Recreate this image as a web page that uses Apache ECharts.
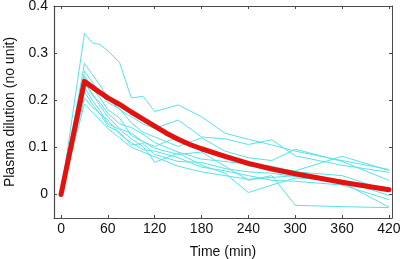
<!DOCTYPE html>
<html>
<head>
<meta charset="utf-8">
<script src="https://cdn.jsdelivr.net/npm/echarts@6/dist/echarts.min.js"></script>
<style>
html, body { margin: 0; padding: 0; background: #fff; }
#chart { width: 400px; height: 259px; }
</style>
</head>
<body>
<div id="chart"></div>
<script>
// sample times (min) for subjects
var times = [0, 30, 40, 50, 60, 75, 90, 105, 120, 150, 180, 210, 240, 270, 300, 360, 420];
var subjects = [
    [0, 0.342, 0.322, 0.318, 0.305, 0.280, 0.205, 0.208, 0.176, 0.190, 0.165, 0.130, 0.117, 0.105, 0.092, 0.072, 0.053],
    [0, 0.278, 0.255, 0.232, 0.205, 0.180, 0.165, 0.150, 0.140, 0.158, 0.122, 0.118, 0.106, 0.116, 0.082, 0.062, 0.047],
    [0, 0.262, 0.238, 0.215, 0.195, 0.182, 0.152, 0.132, 0.122, 0.102, 0.120, 0.092, 0.078, 0.072, 0.096, 0.070, 0.030],
    [0, 0.252, 0.225, 0.205, 0.180, 0.162, 0.125, 0.112, 0.102, 0.122, 0.092, 0.086, 0.060, 0.056, 0.050, 0.081, 0.051],
    [0, 0.245, 0.210, 0.195, 0.172, 0.150, 0.142, 0.128, 0.110, 0.090, 0.075, 0.070, 0.064, 0.060, 0.048, 0.040, 0.007],
    [0, 0.235, 0.215, 0.188, 0.165, 0.140, 0.130, 0.112, 0.098, 0.085, 0.090, 0.060, 0.030, 0.040, -0.023, -0.026, -0.028],
    [0, 0.228, 0.200, 0.178, 0.150, 0.138, 0.118, 0.102, 0.068, 0.088, 0.062, 0.045, 0.004, 0.020, 0.035, 0.030, -0.002],
    [0, 0.218, 0.192, 0.170, 0.158, 0.128, 0.110, 0.095, 0.092, 0.078, 0.058, 0.050, 0.040, 0.030, 0.028, 0.020, -0.011],
    [0, 0.205, 0.185, 0.172, 0.145, 0.132, 0.105, 0.108, 0.085, 0.070, 0.068, 0.055, 0.048, 0.045, 0.038, 0.028, 0.014],
    [0, 0.192, 0.175, 0.158, 0.140, 0.120, 0.100, 0.090, 0.080, 0.060, 0.048, 0.040, 0.032, 0.036, 0.040, 0.026, -0.027]
];
// population curve
var meanTimes = [0, 30, 45, 60, 75, 90, 105, 120, 135, 150, 165, 180, 210, 240, 270, 300, 330, 360, 390, 420];
var meanValues = [0, 0.240, 0.222, 0.205, 0.191, 0.175, 0.160, 0.145, 0.130, 0.117, 0.106, 0.097, 0.081, 0.066, 0.054, 0.044, 0.035, 0.026, 0.018, 0.010];
var xTicks = [0, 60, 120, 180, 240, 300, 360, 420];
var yTicks = [0, 0.1, 0.2, 0.3, 0.4];

function zip(xs, ys) {
    return xs.map(function (x, i) { return [x, ys[i]]; });
}

var fontFam = '"Liberation Sans", Arial, sans-serif';
var axisCol = '#4a4a4a';

var series = subjects.map(function (vals) {
    return {
        type: 'line',
        data: zip(times, vals),
        showSymbol: false,
        lineStyle: { color: '#55e3e8', width: 1 },
        silent: true
    };
});
series.push({
    type: 'line',
    data: zip(meanTimes, meanValues),
    showSymbol: false,
    lineStyle: { color: '#e3120f', width: 5, join: 'round', cap: 'round' },
    z: 5
});

var chart = echarts.init(document.getElementById('chart'));
chart.setOption({
    animation: false,
    grid: { left: 54, right: 8, top: 6, bottom: 41, outerBoundsMode: 'none' },
    xAxis: [{
        type: 'value', min: -9, max: 424,
        name: 'Time (min)', nameLocation: 'middle', nameGap: 27,
        nameTextStyle: { fontFamily: fontFam, fontSize: 14, color: '#111' },
        axisLine: { onZero: false, lineStyle: { color: axisCol, width: 1.2 } },
        axisTick: { inside: true, length: 3, customValues: xTicks, lineStyle: { color: axisCol } },
        axisLabel: { customValues: xTicks, fontFamily: fontFam, fontSize: 14, color: '#111', margin: 4 },
        splitLine: { show: false }
    }, {
        type: 'value', min: -9, max: 424, position: 'top',
        axisLine: { show: true, onZero: false, lineStyle: { color: axisCol, width: 1 } },
        axisTick: { inside: true, length: 3, customValues: xTicks, lineStyle: { color: axisCol } },
        axisLabel: { show: false },
        splitLine: { show: false }
    }],
    yAxis: [{
        type: 'value', min: -0.05, max: 0.4,
        name: 'Plasma dilution (no unit)', nameLocation: 'middle', nameGap: 36,
        nameTextStyle: { fontFamily: fontFam, fontSize: 14, color: '#111' },
        axisLine: { show: true, onZero: false, lineStyle: { color: axisCol, width: 1.2 } },
        axisTick: { show: true, inside: true, length: 3, customValues: yTicks, lineStyle: { color: axisCol } },
        axisLabel: { customValues: yTicks, fontFamily: fontFam, fontSize: 14, color: '#111', margin: 6 },
        splitLine: { show: false }
    }, {
        type: 'value', min: -0.05, max: 0.4, position: 'right',
        axisLine: { show: true, onZero: false, lineStyle: { color: axisCol, width: 1 } },
        axisTick: { show: true, inside: true, length: 3, customValues: yTicks, lineStyle: { color: axisCol } },
        axisLabel: { show: false },
        splitLine: { show: false }
    }],
    series: series
});
</script>
</body>
</html>
